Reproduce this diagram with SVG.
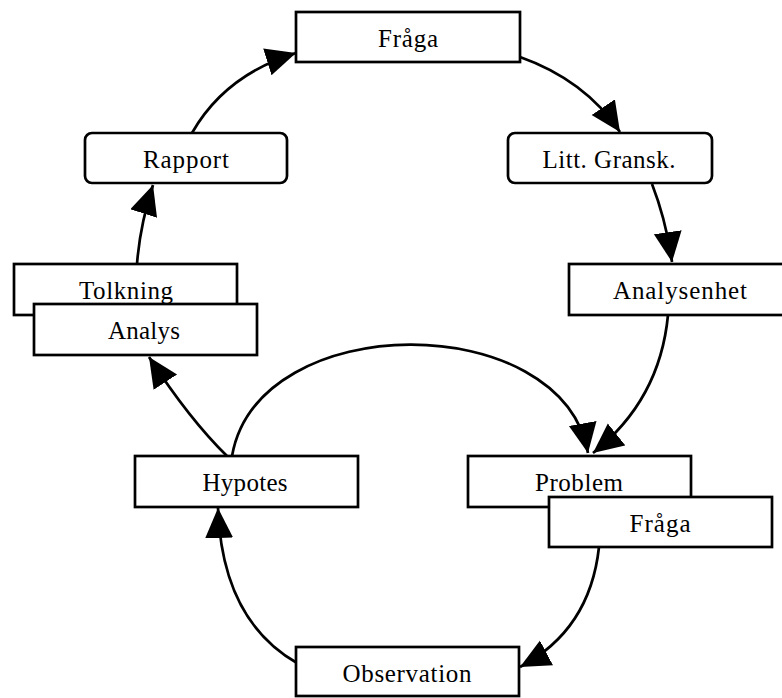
<svg xmlns="http://www.w3.org/2000/svg" width="782" height="698" viewBox="0 0 782 698">
  <style>
    .box { fill: #fff; stroke: #000; stroke-width: 2.7; }
    .lbl { font-family: "Liberation Serif", "Times New Roman", serif; font-size: 25px; fill: #000; text-anchor: middle; }
    .edge { fill: none; stroke: #000; stroke-width: 2.7; marker-end: url(#arrow); }
  </style>
  <defs>
    <marker id="arrow" markerUnits="userSpaceOnUse" markerWidth="32" markerHeight="30" refX="30" refY="14" orient="auto">
      <path d="M0,0 L30,14 L0,28 Z" fill="#000"/>
    </marker>
  </defs>
  <rect width="782" height="698" fill="#fff"/>
  <g id="connectors">
    <path class="edge" d="M192,133 Q225,75 296,53"/>
    <path class="edge" d="M520,57 Q585,80 620,132"/>
    <path class="edge" d="M652,184 Q666,220 672,262"/>
    <path class="edge" d="M668,315 Q660,400 593,453"/>
    <path class="edge" d="M232,456 C258,308 562,308 588,453"/>
    <path class="edge" d="M227,456 Q190,420 149,357"/>
    <path class="edge" d="M137,264 Q140,225 153,185"/>
    <path class="edge" d="M297,663 Q222,620 218,508"/>
    <path class="edge" d="M599,547 Q590,630 520,667"/>
  </g>
  <g id="fraga-top">
    <rect class="box" x="296" y="12" width="224" height="50"/>
    <text class="lbl" x="408" y="47" textLength="60" lengthAdjust="spacing">Fråga</text>
  </g>
  <g id="rapport">
    <rect class="box" x="85" y="133" width="202" height="50" rx="7"/>
    <text class="lbl" x="186" y="168" textLength="86" lengthAdjust="spacing">Rapport</text>
  </g>
  <g id="litt-gransk">
    <rect class="box" x="508" y="133" width="204" height="50" rx="7"/>
    <text class="lbl" x="609" y="168" textLength="133" lengthAdjust="spacing">Litt. Gransk.</text>
  </g>
  <g id="tolkning">
    <rect class="box" x="14" y="264" width="223" height="51"/>
    <text class="lbl" x="126" y="299" textLength="94" lengthAdjust="spacing">Tolkning</text>
  </g>
  <g id="analys">
    <rect class="box" x="34" y="304" width="223" height="51"/>
    <text class="lbl" x="144" y="339" textLength="72" lengthAdjust="spacing">Analys</text>
  </g>
  <g id="analysenhet">
    <rect class="box" x="569" y="264" width="223" height="51"/>
    <text class="lbl" x="680" y="299" textLength="134" lengthAdjust="spacing">Analysenhet</text>
  </g>
  <g id="hypotes">
    <rect class="box" x="135" y="456" width="223" height="51"/>
    <text class="lbl" x="245" y="491" textLength="85" lengthAdjust="spacing">Hypotes</text>
  </g>
  <g id="problem">
    <rect class="box" x="468" y="456" width="223" height="51"/>
    <text class="lbl" x="579" y="491" textLength="88" lengthAdjust="spacing">Problem</text>
  </g>
  <g id="fraga-2">
    <rect class="box" x="549" y="497" width="223" height="50"/>
    <text class="lbl" x="660" y="532" textLength="61" lengthAdjust="spacing">Fråga</text>
  </g>
  <g id="observation">
    <rect class="box" x="296" y="647" width="223" height="49"/>
    <text class="lbl" x="407" y="682" textLength="129" lengthAdjust="spacing">Observation</text>
  </g>
</svg>
